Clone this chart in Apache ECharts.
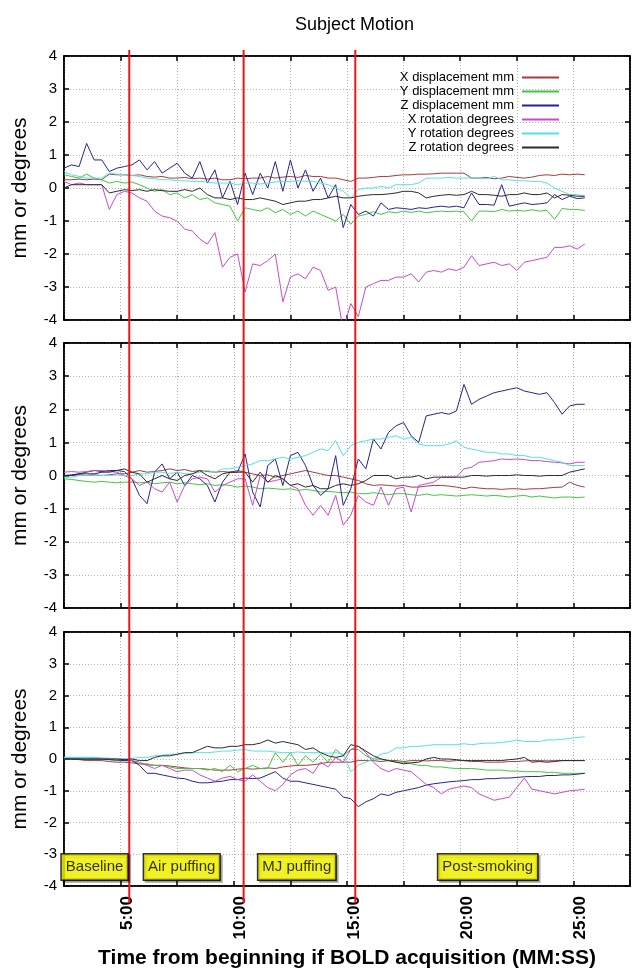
<!DOCTYPE html>
<html>
<head>
<meta charset="utf-8">
<title>Subject Motion</title>
<script src="https://cdn.jsdelivr.net/npm/echarts@6/dist/echarts.min.js"></script>
<style>
  html, body { margin: 0; padding: 0; background: #fff; }
  #chart { width: 632px; height: 970px; }
</style>
</head>
<body>
<div id="chart"></div>
<script>
// 采样时间 (秒)
var times = [
  150, 170, 190, 210, 230, 250, 270, 290, 310, 330,
  350, 370, 390, 410, 430, 450, 470, 490, 510, 530,
  550, 570, 590, 610, 630, 650, 670, 690, 710, 730,
  750, 770, 790, 810, 830, 850, 870, 890, 910, 930,
  950, 970, 990, 1010, 1030, 1050, 1070, 1090, 1110, 1130,
  1150, 1170, 1190, 1210, 1230, 1250, 1270, 1290, 1310, 1330,
  1350, 1370, 1390, 1410, 1430, 1450, 1470, 1490, 1510, 1530
];

var seriesNames = ['X displacement mm', 'Y displacement mm', 'Z displacement mm',
  'X rotation degrees', 'Y rotation degrees', 'Z rotation degrees'];

// 上段
var xDispTop = [
  0.25,0.25,0.27,0.25,0.27,0.25,0.42,0.4,0.4,0.38,
  0.4,0.35,0.33,0.35,0.3,0.3,0.32,0.28,0.3,0.27,
  0.3,0.25,0.25,0.3,0.28,0.3,0.3,0.35,0.3,0.33,
  0.35,0.32,0.38,0.35,0.35,0.3,0.3,0.25,0.2,0.3,
  0.3,0.32,0.35,0.35,0.38,0.4,0.4,0.42,0.42,0.43,
  0.45,0.45,0.45,0.45,0.3,0.3,0.32,0.28,0.3,0.35,
  0.32,0.3,0.33,0.38,0.4,0.38,0.42,0.4,0.42,0.4];
var yDispTop = [
  0.4,0.35,0.3,0.42,0.3,0.25,0.15,0.2,0.15,0.18,
  0.1,0.0,-0.1,-0.05,-0.2,-0.15,-0.3,-0.2,-0.35,-0.3,
  -0.45,-0.5,-0.55,-1.0,-0.6,-0.65,-0.7,-0.6,-0.75,-0.65,
  -0.8,-0.7,-0.85,-0.7,-0.8,-0.9,-1.0,-0.8,-1.1,-0.85,
  -0.8,-0.72,-0.8,-0.72,-0.75,-0.7,-0.74,-0.7,-0.75,-0.72,
  -0.7,-0.72,-0.7,-0.72,-1.0,-0.7,-0.7,-0.72,-0.65,-0.7,
  -0.68,-0.7,-0.66,-0.7,-0.68,-0.95,-0.62,-0.65,-0.65,-0.68];
var zDispTop = [
  0.6,0.7,0.65,1.35,0.85,0.85,0.5,0.6,0.65,0.7,
  0.85,0.55,0.8,0.45,0.6,0.75,0.45,0.3,0.8,0.15,
  0.55,-0.3,0.2,-0.5,0.45,-0.2,0.45,0.0,0.8,-0.1,
  0.85,0.0,0.55,-0.1,0.3,-0.3,0.1,-1.2,-0.5,-0.8,
  -0.7,-0.85,-0.45,-0.65,-0.6,-0.62,-0.65,-0.6,-0.62,-0.58,
  -0.55,-0.58,-0.55,-0.6,-0.15,-0.5,-0.5,-0.52,0.1,-0.55,
  -0.5,-0.45,-0.5,-0.48,-0.45,-0.2,-0.35,-0.25,-0.32,-0.3];
var xRotTop = [
  0.2,0.1,0.15,0.1,0.1,0.1,-0.65,-0.2,-0.1,-0.15,
  -0.3,-0.4,-0.7,-0.85,-0.9,-1.0,-1.25,-1.3,-1.55,-1.7,
  -1.35,-2.4,-2.1,-2.0,-3.15,-2.3,-2.35,-2.2,-2.0,-3.45,
  -2.7,-2.6,-2.75,-2.4,-2.5,-3.1,-3.0,-4.3,-3.5,-3.9,
  -3.0,-2.9,-2.8,-2.8,-2.7,-2.7,-2.6,-2.85,-2.55,-2.5,
  -2.55,-2.45,-2.5,-2.4,-2.05,-2.35,-2.3,-2.25,-2.35,-2.3,
  -2.5,-2.25,-2.2,-2.15,-2.1,-1.8,-1.8,-1.75,-1.85,-1.7];
var yRotTop = [
  0.5,0.4,0.35,0.3,0.3,0.3,0.45,0.42,0.4,0.38,
  0.35,0.3,0.28,0.25,0.25,0.22,0.22,0.2,0.2,0.18,
  0.15,0.15,0.15,0.1,0.15,0.15,0.12,0.15,0.18,0.2,
  0.2,0.22,0.2,0.2,0.15,0.1,0.0,-0.1,-0.3,-0.05,
  0.0,0.0,0.05,0.0,0.1,0.1,0.1,0.15,0.3,0.3,
  0.3,0.32,0.3,0.3,0.3,0.3,0.28,0.35,0.25,0.25,
  0.22,0.22,0.2,0.2,0.15,0.0,-0.1,-0.2,-0.2,-0.25];
var zRotTop = [
  0.0,0.1,0.1,0.1,0.1,0.1,-0.15,-0.1,-0.05,-0.08,
  -0.05,-0.1,-0.05,-0.08,-0.1,-0.1,-0.05,-0.1,0.0,-0.2,
  -0.3,-0.3,-0.35,-0.3,-0.35,-0.35,-0.3,-0.35,-0.4,-0.5,
  -0.45,-0.4,-0.4,-0.35,-0.35,-0.3,-0.25,-0.3,-0.3,-0.25,
  -0.22,-0.2,-0.2,-0.18,-0.15,-0.1,-0.1,-0.15,-0.3,-0.25,
  -0.22,-0.2,-0.22,-0.2,-0.1,-0.2,-0.2,-0.22,-0.25,-0.2,
  -0.2,-0.15,-0.2,-0.2,-0.15,-0.3,-0.2,-0.22,-0.25,-0.25];

// 中段
var xDispMid = [
  0.0,0.0,0.02,0.0,0.02,0.0,0.02,0.05,0.05,0.1,
  0.15,0.1,0.12,0.15,0.2,0.15,0.18,0.12,0.15,0.12,
  0.1,0.12,0.1,0.15,0.1,0.05,0.0,0.02,-0.05,0.0,
  0.05,0.1,0.15,0.1,0.05,0.0,0.0,-0.05,-0.1,-0.15,
  -0.25,-0.3,-0.28,-0.3,-0.32,-0.3,-0.35,-0.35,-0.32,-0.3,
  -0.3,-0.32,-0.35,-0.4,-0.35,-0.38,-0.4,-0.4,-0.42,-0.4,
  -0.4,-0.42,-0.4,-0.4,-0.38,-0.36,-0.35,-0.2,-0.3,-0.35];
var yDispMid = [
  -0.1,-0.12,-0.15,-0.18,-0.2,-0.18,-0.2,-0.22,-0.2,-0.2,
  -0.22,-0.2,-0.25,-0.22,-0.2,-0.25,-0.22,-0.25,-0.28,-0.25,
  -0.3,-0.28,-0.3,-0.35,-0.32,-0.35,-0.4,-0.38,-0.4,-0.42,
  -0.4,-0.45,-0.42,-0.45,-0.5,-0.48,-0.5,-0.52,-0.5,-0.55,
  -0.55,-0.52,-0.55,-0.58,-0.55,-0.55,-0.58,-0.6,-0.56,-0.6,
  -0.58,-0.6,-0.62,-0.6,-0.58,-0.6,-0.62,-0.6,-0.62,-0.65,
  -0.62,-0.6,-0.65,-0.62,-0.65,-0.68,-0.65,-0.65,-0.67,-0.65];
var zDispMid = [
  0.0,0.02,0.05,0.1,0.15,0.12,0.15,0.15,0.12,-0.1,
  -0.6,-0.85,0.1,0.35,-0.1,0.1,-0.3,0.0,-0.1,-0.3,
  -0.8,-0.2,0.1,0.1,0.65,-0.5,-0.95,0.3,0.5,-0.3,
  0.6,0.7,0.3,-0.3,-0.6,-0.4,0.6,-0.9,-0.4,0.5,
  0.2,1.1,0.8,1.3,1.5,1.6,1.2,1.0,1.8,1.85,
  1.9,1.85,1.95,2.75,2.15,2.3,2.4,2.5,2.55,2.6,
  2.65,2.55,2.5,2.45,2.5,2.2,1.85,2.1,2.15,2.15];
var xRotMid = [
  0.1,0.12,0.1,0.12,0.15,0.15,0.12,0.1,0.0,-0.1,
  -0.3,-0.2,-0.4,-0.5,-0.2,-0.8,-0.3,-0.1,-0.05,-0.1,
  -0.5,-0.3,-0.2,-0.1,-0.1,-0.9,0.0,-0.2,-0.15,-0.1,
  -0.3,-0.4,-0.9,-1.2,-0.9,-1.2,-0.6,-1.5,-1.2,-0.6,
  -0.8,-0.9,-0.35,-0.9,-0.4,-0.35,-1.1,-0.3,-0.25,-0.2,
  -0.05,-0.05,-0.05,0.2,0.25,0.4,0.42,0.45,0.5,0.48,
  0.5,0.48,0.45,0.45,0.42,0.4,0.38,0.35,0.4,0.4];
var yRotMid = [
  -0.05,-0.05,0.0,0.0,0.02,0.0,0.0,0.02,0.0,0.0,
  0.05,0.05,0.1,0.1,0.05,0.1,0.05,0.05,0.1,0.15,
  0.1,0.2,0.2,0.25,0.3,0.35,0.45,0.45,0.5,0.55,
  0.5,0.55,0.6,0.7,0.8,0.75,1.05,0.6,0.9,1.0,
  1.05,1.1,1.1,1.15,1.2,1.1,1.15,0.95,0.9,0.9,
  0.9,0.95,1.05,0.85,0.8,0.75,0.7,0.7,0.65,0.65,
  0.6,0.6,0.55,0.55,0.5,0.45,0.4,0.3,0.3,0.3];
var zRotMid = [
  0.0,0.0,0.05,0.05,0.05,0.1,0.1,0.15,0.2,0.1,
  0.05,-0.2,-0.1,0.0,-0.1,-0.15,0.0,0.05,0.15,0.0,
  -0.1,0.05,0.1,0.1,0.1,-0.2,0.1,-0.2,0.0,-0.1,
  -0.3,-0.25,-0.35,-0.3,-0.4,-0.4,-0.3,-0.25,-0.3,-0.25,
  -0.15,0.0,0.0,0.0,-0.1,-0.05,-0.05,0.0,-0.1,-0.05,
  -0.05,-0.05,-0.05,-0.05,0.0,0.0,-0.02,0.0,0.0,0.0,
  0.02,0.0,0.0,-0.02,0.0,0.0,0.0,0.1,0.15,0.2];

// 下段
var xDispBot = [
  0.0,0.0,-0.02,-0.05,-0.05,-0.05,-0.08,-0.1,-0.1,-0.12,
  -0.15,-0.18,-0.2,-0.2,-0.22,-0.25,-0.28,-0.3,-0.3,-0.32,
  -0.35,-0.35,-0.35,-0.32,-0.3,-0.32,-0.3,-0.28,-0.3,-0.25,
  -0.22,-0.2,-0.2,-0.18,-0.15,-0.1,-0.1,-0.1,-0.1,-0.05,
  -0.05,-0.05,-0.08,-0.05,-0.05,-0.08,-0.05,-0.05,-0.06,-0.05,
  -0.05,-0.07,-0.05,-0.05,-0.08,-0.08,-0.1,-0.1,-0.1,-0.08,
  -0.08,-0.06,-0.05,-0.05,-0.06,-0.05,-0.05,-0.05,-0.05,-0.05];
var yDispBot = [
  0.0,0.0,0.0,-0.02,0.0,-0.02,-0.02,-0.05,-0.05,-0.05,
  -0.15,-0.15,-0.2,-0.2,-0.25,-0.3,-0.3,-0.3,-0.3,-0.35,
  -0.3,-0.4,-0.2,-0.4,-0.3,-0.2,-0.3,-0.3,0.2,-0.1,
  0.2,-0.2,0.1,-0.1,0.15,-0.1,0.3,0.1,0.3,0.3,
  0.1,0.0,0.0,-0.05,-0.1,-0.1,-0.15,-0.2,-0.2,-0.25,
  -0.25,-0.28,-0.3,-0.3,-0.3,-0.32,-0.35,-0.35,-0.35,-0.38,
  -0.38,-0.4,-0.4,-0.4,-0.42,-0.42,-0.45,-0.45,-0.45,-0.45];
var zDispBot = [
  0.0,0.0,0.0,0.0,0.0,0.0,-0.02,-0.03,-0.05,-0.05,
  -0.2,-0.45,-0.45,-0.5,-0.55,-0.6,-0.62,-0.7,-0.75,-0.75,
  -0.72,-0.7,-0.65,-0.65,-0.6,-0.62,-0.6,-0.5,-0.4,-0.6,
  -0.7,-0.7,-0.75,-0.8,-0.85,-0.9,-0.95,-1.2,-1.25,-1.5,
  -1.35,-1.25,-1.1,-1.15,-1.05,-1.0,-0.95,-0.9,-0.82,-0.78,
  -0.75,-0.72,-0.7,-0.68,-0.65,-0.65,-0.62,-0.62,-0.6,-0.6,
  -0.58,-0.56,-0.55,-0.55,-0.52,-0.52,-0.5,-0.5,-0.48,-0.45];
var xRotBot = [
  0.05,0.05,0.05,0.05,0.05,0.02,0.02,0.0,0.0,-0.05,
  -0.1,-0.2,-0.3,-0.2,-0.3,-0.4,-0.35,-0.35,-0.5,-0.6,
  -0.7,-0.6,-0.55,-0.65,-0.7,-0.5,-0.7,-0.9,-1.0,-0.8,
  -0.5,-0.35,-0.3,-0.45,-0.1,-0.25,0.05,-0.1,0.3,0.4,
  0.2,-0.1,-0.3,-0.4,-0.3,-0.35,-0.4,-0.6,-0.8,-0.9,
  -1.1,-0.95,-0.9,-0.85,-0.9,-1.1,-1.2,-1.3,-1.25,-1.2,
  -0.9,-0.6,-0.95,-1.0,-1.05,-1.1,-1.05,-1.0,-0.98,-0.95];
var yRotBot = [
  0.05,0.05,0.05,0.05,0.05,0.03,0.02,0.0,0.0,0.02,
  0.05,0.05,0.1,0.12,0.15,0.15,0.18,0.2,0.2,0.2,
  0.22,0.25,0.25,0.28,0.3,0.25,0.25,0.25,0.22,0.2,
  0.2,0.22,0.2,0.2,0.2,0.18,0.2,0.15,-0.4,-0.2,
  -0.1,0.0,0.15,0.2,0.35,0.35,0.4,0.4,0.42,0.45,
  0.45,0.45,0.45,0.48,0.45,0.48,0.5,0.5,0.52,0.55,
  0.6,0.55,0.55,0.55,0.6,0.6,0.62,0.65,0.68,0.7];
var zRotBot = [
  0.0,0.0,0.0,0.0,0.0,0.0,0.0,0.0,-0.02,0.0,
  -0.05,-0.05,0.05,0.1,0.1,0.15,0.2,0.2,0.3,0.4,
  0.35,0.35,0.4,0.4,0.45,0.45,0.5,0.6,0.5,0.55,
  0.5,0.45,0.3,0.35,0.2,0.1,0.05,0.1,0.45,0.4,
  0.25,0.1,0.0,-0.05,-0.1,-0.15,-0.12,-0.1,0.0,0.05,
  0.0,0.0,-0.02,-0.05,-0.05,-0.05,-0.05,-0.05,-0.05,-0.02,
  0.0,0.05,-0.1,-0.08,-0.1,-0.08,-0.05,-0.05,-0.05,-0.05];

// 阶段分界 (秒) 与 阶段标签
var redLineTimes = [323, 626, 922];
var phaseNames = ['Baseline', 'Air puffing', 'MJ puffing', 'Post-smoking'];
var phaseTimes = [231, 462, 767, 1273];
var phaseLevel = -3.4;

var panels = [
  [xDispTop, yDispTop, zDispTop, xRotTop, yRotTop, zRotTop],
  [xDispMid, yDispMid, zDispMid, xRotMid, yRotMid, zRotMid],
  [xDispBot, yDispBot, zDispBot, xRotBot, yRotBot, zRotBot]
];

var colors = ['#a53d3d', '#42c742', '#25258f', '#c84bcc', '#55e2e2', '#2b2b2b'];
var fontFamily = '"Liberation Sans", Arial, sans-serif';
var panelTops = [56, 343, 632];
var panelHeights = [264, 265, 262];

function mmss(v) {
  if (v % 300 !== 0) return '';
  var m = Math.floor(v / 60), s = v % 60;
  return m + ':' + (s < 10 ? '0' : '') + s;
}

var frameLine = { color: '#000', width: 1.5 };
var gridLine = { color: '#b4b4b4', width: 1, type: [1, 2] };
var grids = [], xAxes = [], yAxes = [], series = [];

for (var p = 0; p < 3; p++) {
  grids.push({ left: 64, right: 2, top: panelTops[p], height: panelHeights[p],
    show: true, borderColor: '#000', borderWidth: 1.5, backgroundColor: 'transparent' });

  xAxes.push({
    type: 'value', gridIndex: p, position: 'bottom', min: 150, max: 1650, interval: 150,
    axisLine: { show: true, onZero: false, lineStyle: frameLine },
    axisTick: { show: true, inside: true, length: 5, lineStyle: frameLine },
    splitLine: { show: true, lineStyle: gridLine },
    axisLabel: p === 2 ? {
      show: true, rotate: 90, margin: 10, formatter: mmss,
      verticalAlign: 'top', lineHeight: 14,
      fontSize: 17, fontWeight: 'bold', color: '#000', fontFamily: fontFamily
    } : { show: false },
    name: p === 2 ? 'Time from beginning if BOLD acquisition (MM:SS)' : '',
    nameLocation: 'middle', nameGap: 62,
    nameTextStyle: { fontSize: 21, fontWeight: 'bold', color: '#000', fontFamily: fontFamily }
  });
  xAxes.push({
    type: 'value', gridIndex: p, position: 'top', min: 150, max: 1650, interval: 150,
    axisLine: { show: true, onZero: false, lineStyle: frameLine },
    axisTick: { show: true, inside: true, length: 5, lineStyle: frameLine },
    splitLine: { show: false }, axisLabel: { show: false }
  });
  yAxes.push({
    type: 'value', gridIndex: p, position: 'left', min: -4, max: 4, interval: 1,
    axisLine: { show: true, onZero: false, lineStyle: frameLine },
    axisTick: { show: true, inside: true, length: 5, lineStyle: frameLine },
    splitLine: { show: true, lineStyle: gridLine },
    axisLabel: { show: true, margin: 7, fontSize: 15, color: '#000', fontFamily: fontFamily },
    name: 'mm or degrees', nameLocation: 'middle', nameGap: 33,
    nameTextStyle: { fontSize: 21, color: '#000', fontFamily: fontFamily }
  });
  yAxes.push({
    type: 'value', gridIndex: p, position: 'right', min: -4, max: 4, interval: 1,
    axisLine: { show: true, onZero: false, lineStyle: frameLine },
    axisTick: { show: true, inside: true, length: 5, lineStyle: frameLine },
    splitLine: { show: false }, axisLabel: { show: false }
  });

  for (var k = 0; k < 6; k++) {
    var vals = panels[p][k];
    series.push({
      type: 'line', name: seriesNames[k], xAxisIndex: p * 2, yAxisIndex: p * 2,
      data: times.map(function (t, i) { return [t, vals[i]]; }),
      showSymbol: false, symbol: 'none', clip: true, silent: true,
      lineStyle: { width: 1, color: colors[k] }, itemStyle: { color: colors[k] },
      z: 3 + k * 0.1
    });
  }
}

// 红色分界线: 跨越三个面板的覆盖网格
grids.push({ left: 64, right: 2, top: 50, height: 853, show: false });
xAxes.push({ type: 'value', gridIndex: 3, min: 150, max: 1650, show: false });
yAxes.push({ type: 'value', gridIndex: 3, min: 0, max: 1, show: false });
series.push({
  type: 'custom', xAxisIndex: 6, yAxisIndex: 6, silent: true, z: 6,
  data: redLineTimes.map(function (t) { return [t, 0]; }),
  renderItem: function (params, api) {
    var a = api.coord([api.value(0), 1]);
    var b = api.coord([api.value(0), 0]);
    return { type: 'line', shape: { x1: a[0], y1: a[1], x2: b[0], y2: b[1] },
      style: { stroke: '#e8161b', lineWidth: 2 } };
  }
});

// 阶段标签
series.push({
  type: 'scatter', xAxisIndex: 4, yAxisIndex: 4, silent: true, z: 8,
  symbolSize: 1, itemStyle: { color: 'rgba(0,0,0,0)' },
  data: phaseTimes.map(function (t, i) { return { value: [t, phaseLevel], name: phaseNames[i] }; }),
  label: {
    show: true, position: 'inside', formatter: '{b}',
    fontSize: 15, lineHeight: 17, color: '#000', fontFamily: fontFamily,
    backgroundColor: '#ffff00', borderColor: '#000', borderWidth: 1.5,
    padding: [4, 4, 4, 4],
    shadowColor: 'rgba(0,0,0,0.35)', shadowOffsetX: 2, shadowOffsetY: 2
  }
});

var chart = echarts.init(document.getElementById('chart'), null, { renderer: 'canvas' });
chart.setOption({
  animation: false,
  backgroundColor: '#fff',
  title: {
    text: 'Subject Motion', left: 290, top: 11,
    textStyle: { fontSize: 18, fontWeight: 'normal', color: '#000', fontFamily: fontFamily }
  },
  legend: {
    data: seriesNames, orient: 'vertical', align: 'right',
    right: 73, top: 71, padding: 0, itemGap: 1,
    itemWidth: 37, itemHeight: 2, icon: 'rect',
    textStyle: { fontSize: 13, lineHeight: 12, color: '#000', fontFamily: fontFamily,
      padding: [0, 3, 0, 0] },
    selectedMode: false
  },
  grid: grids,
  xAxis: xAxes,
  yAxis: yAxes,
  series: series
});
</script>
</body>
</html>
